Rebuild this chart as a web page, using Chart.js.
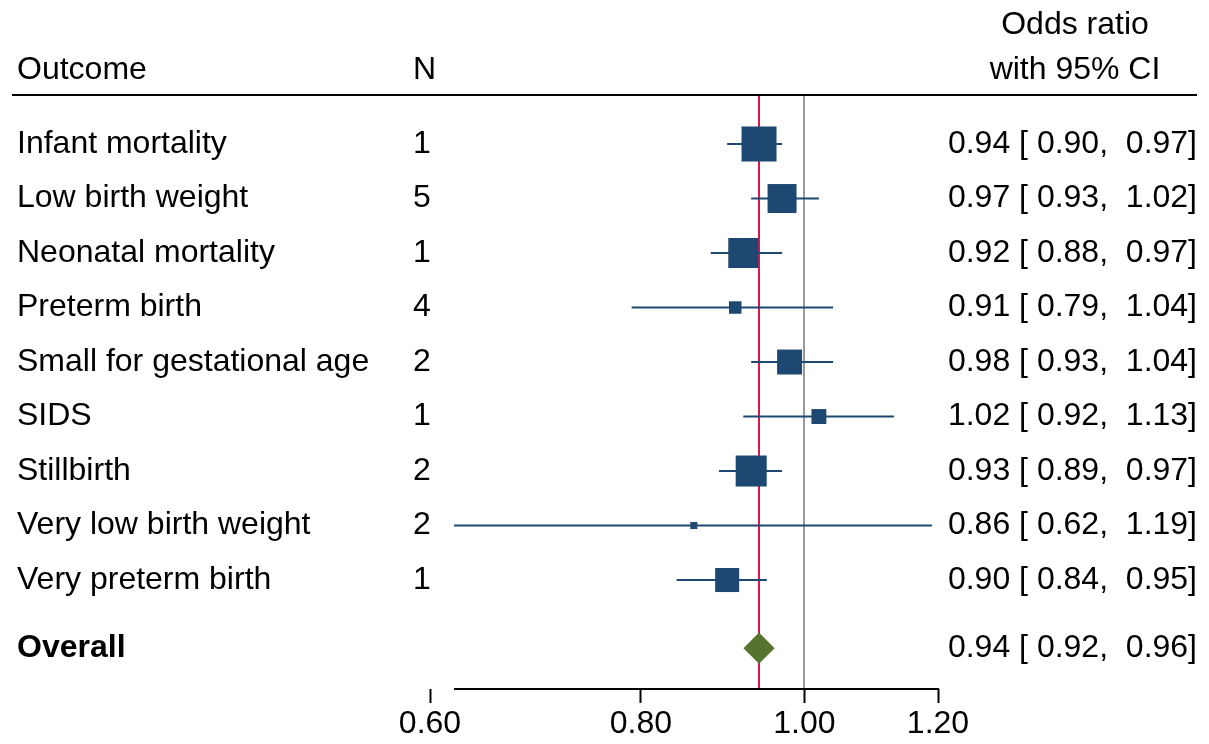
<!DOCTYPE html>
<html>
<head>
<meta charset="utf-8">
<script src="https://cdn.jsdelivr.net/npm/chart.js@4.4.1/dist/chart.umd.min.js"></script>
<style>
  body { margin: 0; background: #fff; }
  canvas { display: block; }
</style>
</head>
<body>
<canvas id="forest" width="1209" height="744"></canvas>
<script>
// data
const outcomes = ["Infant mortality", "Low birth weight", "Neonatal mortality", "Preterm birth",
  "Small for gestational age", "SIDS", "Stillbirth", "Very low birth weight", "Very preterm birth"];
const nStudies = [1, 5, 1, 4, 2, 1, 2, 2, 1];
const oddsRatio = [0.94, 0.97, 0.92, 0.91, 0.98, 1.02, 0.93, 0.86, 0.90];
const ciLow = [0.90, 0.93, 0.88, 0.79, 0.93, 0.92, 0.89, 0.62, 0.84];
const ciHigh = [0.97, 1.02, 0.97, 1.04, 1.04, 1.13, 0.97, 1.19, 0.95];
const weights = [22.0, 15.1, 16.2, 2.8, 11.2, 4.0, 17.3, 0.9, 10.4]; // % weight -> box area

const overallLabel = "Overall";
const overallOR = [0.94];
const overallLow = [0.92];
const overallHigh = [0.96];

const xTicks = [0.60, 0.80, 1.00, 1.20];
const nullValue = 1;

const FONT = '"Liberation Sans", Arial, sans-serif';
const navy = '#1d4872';
const green = '#55752f';

// rows 1..9 top to bottom, overall a little further down
const rowY = outcomes.map((_, i) => i + 1);
const overallY = outcomes.length + 1.25;

const ciPoints = [];
outcomes.forEach((_, i) => {
  ciPoints.push({x: ciLow[i], y: rowY[i]}, {x: ciHigh[i], y: rowY[i]}, {x: null, y: null});
});
const boxPoints = outcomes.map((_, i) => ({x: oddsRatio[i], y: rowY[i]}));

function fmt(v) { return v.toFixed(2); }
function ciText(est, lo, hi) { return fmt(est) + ' [ ' + fmt(lo) + ',  ' + fmt(hi) + ']'; }

// vertical lines: overall estimate (red) and no effect (grey)
const refLines = {
  id: 'refLines',
  beforeDatasetsDraw(chart) {
    const {ctx, chartArea, scales: {x}} = chart;
    ctx.save();
    ctx.lineWidth = 2;
    ctx.strokeStyle = '#999999';
    let px = Math.round(x.getPixelForValue(nullValue));
    ctx.beginPath(); ctx.moveTo(px, chartArea.top); ctx.lineTo(px, chartArea.bottom); ctx.stroke();
    ctx.strokeStyle = '#e0144c';
    px = Math.round(x.getPixelForValue(overallOR[0]));
    ctx.beginPath(); ctx.moveTo(px, chartArea.top); ctx.lineTo(px, chartArea.bottom); ctx.stroke();
    ctx.restore();
  }
};

// axis line only spans the data range, like Stata does
const axisLine = {
  id: 'axisLine',
  afterDraw(chart) {
    const {ctx, scales: {x}} = chart;
    const x0 = x.getPixelForValue(Math.min(...ciLow));
    const x1 = x.getPixelForValue(xTicks[xTicks.length - 1]);
    ctx.save();
    ctx.strokeStyle = '#000';
    ctx.lineWidth = 2;
    ctx.beginPath(); ctx.moveTo(x0, x.top); ctx.lineTo(x1 + 1, x.top); ctx.stroke();
    ctx.restore();
  }
};

// table text: headers, outcomes, N and OR [CI]
const tableText = {
  id: 'tableText',
  afterDraw(chart) {
    const {ctx, scales: {y}} = chart;
    ctx.save();
    ctx.fillStyle = '#000';
    ctx.textBaseline = 'middle';
    ctx.font = '32px ' + FONT;

    ctx.textAlign = 'left';
    ctx.fillText('Outcome', 17, 70);
    ctx.fillText('N', 413, 70);
    ctx.textAlign = 'center';
    ctx.fillText('Odds ratio', 1075, 25);
    ctx.fillText('with 95% CI', 1075, 70);

    ctx.strokeStyle = '#000';
    ctx.lineWidth = 2;
    ctx.beginPath(); ctx.moveTo(12, 95); ctx.lineTo(1197, 95); ctx.stroke();

    outcomes.forEach((name, i) => {
      const py = y.getPixelForValue(rowY[i]);
      ctx.textAlign = 'left';
      ctx.fillText(name, 17, py);
      ctx.fillText(String(nStudies[i]), 413, py);
      ctx.textAlign = 'right';
      ctx.fillText(ciText(oddsRatio[i], ciLow[i], ciHigh[i]), 1197, py);
    });

    const oy = y.getPixelForValue(overallY);
    ctx.textAlign = 'right';
    ctx.fillText(ciText(overallOR[0], overallLow[0], overallHigh[0]), 1197, oy);
    ctx.textAlign = 'left';
    ctx.font = 'bold 32px ' + FONT;
    ctx.fillText(overallLabel, 17, oy);
    ctx.restore();
  }
};

new Chart(document.getElementById('forest'), {
  type: 'scatter',
  data: {
    datasets: [
      {
        label: 'CI',
        type: 'line',
        data: ciPoints,
        showLine: true,
        spanGaps: false,
        borderColor: navy,
        borderWidth: 2,
        pointRadius: 0,
        order: 3
      },
      {
        label: 'OR',
        data: boxPoints,
        pointStyle: 'rect',
        // box side proportional to sqrt(weight); rect side = radius * sqrt(2)
        pointRadius: ctx => 7.46 * Math.sqrt(weights[ctx.dataIndex] || 0) / Math.SQRT2,
        backgroundColor: navy,
        borderColor: navy,
        borderWidth: 0,
        order: 2
      },
      {
        label: overallLabel,
        data: [{x: overallOR[0], y: overallY}],
        pointStyle: 'rectRot',
        pointRadius: ctx => {
          const x = ctx.chart.scales.x;
          if (!x) return 15;
          return (x.getPixelForValue(overallHigh[0]) - x.getPixelForValue(overallLow[0])) / 2;
        },
        backgroundColor: green,
        borderColor: green,
        borderWidth: 0,
        order: 1
      }
    ]
  },
  options: {
    responsive: false,
    animation: false,
    devicePixelRatio: 1,
    layout: { padding: { left: 430, right: 271, top: 95, bottom: 0 } },
    plugins: { legend: { display: false }, tooltip: { enabled: false } },
    scales: {
      x: {
        type: 'logarithmic',
        min: 0.6,
        max: 1.2,
        afterBuildTicks: s => { s.ticks = xTicks.map(v => ({value: v})); },
        afterFit: s => { s.height = 55; },
        ticks: {
          callback: v => Number(v).toFixed(2),
          color: '#000',
          font: { size: 32, family: FONT },
          padding: 2,
          maxRotation: 0,
          autoSkip: false
        },
        grid: {
          display: true,
          drawOnChartArea: false,
          drawTicks: true,
          tickLength: 14,
          tickColor: '#000',
          tickWidth: 2
        },
        border: { display: false }
      },
      y: {
        type: 'linear',
        reverse: true,
        min: 0.1,
        max: 11,
        display: false
      }
    }
  },
  plugins: [refLines, axisLine, tableText]
});
</script>
</body>
</html>
